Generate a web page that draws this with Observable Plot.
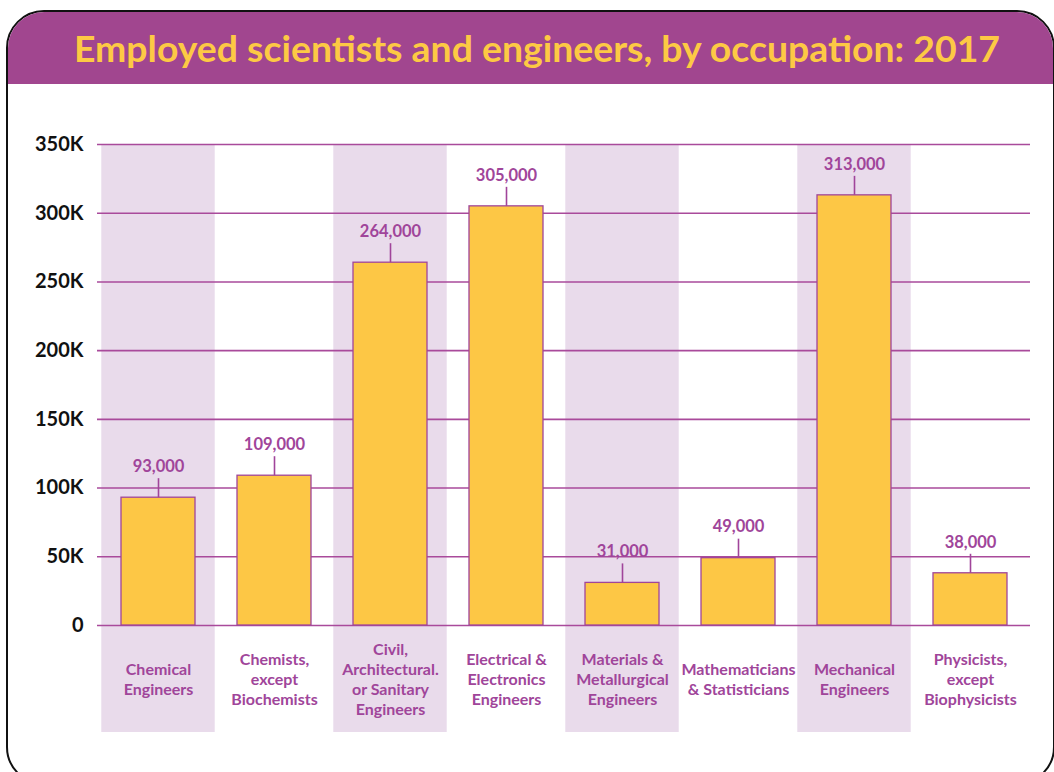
<!DOCTYPE html>
<html><head><meta charset="utf-8">
<script src="https://cdn.jsdelivr.net/npm/d3@7"></script>
<script src="https://cdn.jsdelivr.net/npm/@observablehq/plot@0.6"></script>
<style>
html,body{margin:0;padding:0;width:1054px;height:772px;overflow:hidden;background:#fff;font-family:Lato,sans-serif}
#frame{position:absolute;left:6px;top:10px;width:1049px;height:775px;border:2.5px solid #111;border-radius:38px;box-sizing:border-box;overflow:hidden}
#title{position:relative;height:72px;background:#a1468f}
#title span{position:absolute;left:529px;top:50%;white-space:nowrap;color:#fdc944;font:700 36px Lato,sans-serif;transform-origin:center center}
#chart{position:absolute;left:0;top:90px}
</style></head>
<body>
<div id="frame"><div id="title"><span id="tt">Employed scientists and engineers, by occupation: 2017</span></div></div>
<div id="chart"></div>
<script>
const categories = ["Chemical Engineers","Chemists, except Biochemists","Civil, Architectural, or Sanitary Engineers","Electrical & Electronics Engineers","Materials & Metallurgical Engineers","Mathematicians & Statisticians","Mechanical Engineers","Physicists, except Biophysicists"];
const labels = ["Chemical\nEngineers","Chemists,\nexcept\nBiochemists","Civil,\nArchitectural.\nor Sanitary\nEngineers","Electrical &\nElectronics\nEngineers","Materials &\nMetallurgical\nEngineers","Mathematicians\n& Statisticians","Mechanical\nEngineers","Physicists,\nexcept\nBiophysicists"];
const values = [93000,109000,264000,305000,31000,49000,313000,38000];
const yTicks = [0,50000,100000,150000,200000,250000,300000,350000];

// fit title to reference width
const tt = document.getElementById("tt");
const w = tt.getBoundingClientRect().width;
tt.style.transform = `translate(-50%,-50%) scaleX(${926 / w})`;

const data = categories.map((c,i)=>({cat:c,label:labels[i],value:values[i],i}));
const shaded = data.filter(d=>d.i%2===0);
const purple = "#a0459a";
const yMax = yTicks[yTicks.length-1];

const chart = Plot.plot({
  width:1054, height:660,
  marginLeft:97, marginRight:24, marginTop:54, marginBottom:125,
  style:{fontFamily:"Lato, sans-serif", color:"#111", background:"transparent"},
  x:{domain:categories, padding:0, axis:null},
  y:{domain:[0,yMax], axis:null},
  marks:[
    Plot.barY(shaded,{x:"cat", y1:()=>0, y2:()=>yMax, fill:"#e9dbeb", insetBottom:-107, insetLeft:1.3, insetRight:1.3}),
    Plot.ruleY(yTicks,{stroke:"#a94a9b", strokeWidth:1.6}),
    Plot.barY(data,{x:"cat", y:"value", fill:"#fdc745", stroke:purple, strokeWidth:1.3, insetLeft:21, insetRight:21}),
    Plot.ruleX(data,{x:"cat", y1:"value", y2:"value", insetTop:-19, stroke:purple, strokeWidth:1.6}),
    Plot.text(data,{x:"cat", y:"value", text:d=>d3.format(",")(d.value), dy:-31, fill:purple, fontWeight:700, fontSize:16.5}),
    Plot.text(data,{x:"cat", y:()=>0, text:"label", dy:53, lineAnchor:"middle", lineHeight:1.25, fill:purple, fontWeight:700, fontSize:16}),
    Plot.axisY({ticks:yTicks, tickFormat:d=>d===0?"0":(d/1000)+"K", tickSize:0, tickPadding:14, fontSize:20, fontWeight:700, fill:"#111", label:null})
  ]
});
document.getElementById("chart").appendChild(chart);
</script>
</body></html>
